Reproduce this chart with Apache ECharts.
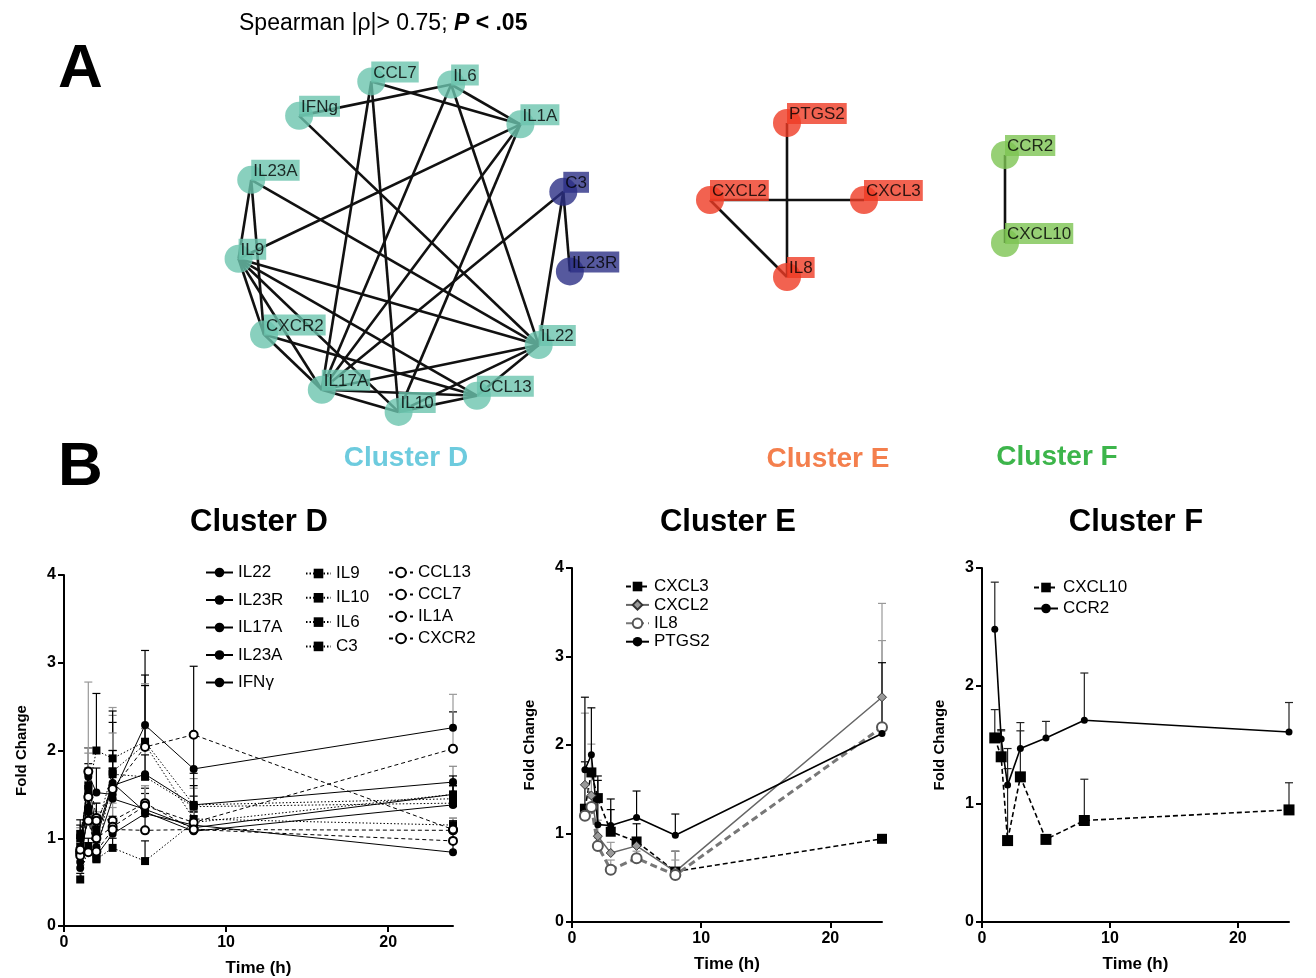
<!DOCTYPE html>
<html>
<head>
<meta charset="utf-8">
<script src="https://cdn.jsdelivr.net/npm/echarts@6/dist/echarts.min.js"></script>
<style>html,body{margin:0;padding:0;background:#fff}#c{width:1316px;height:978px}</style>
</head>
<body>
<div id="c"></div>
<script>
// ---------------- DATA ----------------
const TIMES = [1, 1.5, 2, 3, 5, 8, 24];
const X_TICKS = [0, 10, 20];

// Cluster D: mean fold change
const IL22  = [0.85, 1.73, 1.52, 1.50, 2.29, 1.79, 2.26];
const IL23R = [0.80, 1.50, 1.00, 1.60, 1.73, 1.38, 1.64];
const IL17A = [0.66, 1.35, 0.90, 1.45, 1.33, 1.12, 1.50];
const IL23A = [0.87, 1.70, 1.05, 1.63, 1.30, 1.08, 1.38];
const IFNG  = [0.73, 1.30, 0.80, 1.05, 1.28, 1.15, 0.84];
const IL9   = [1.05, 1.55, 2.00, 1.91, 2.10, 1.38, 1.45];
const IL10  = [0.90, 1.47, 1.10, 1.76, 2.07, 1.22, 1.15];
const IL6   = [1.00, 1.60, 0.77, 1.73, 1.70, 1.36, 1.40];
const C3    = [0.53, 0.91, 0.76, 0.89, 0.74, 1.18, 1.50];
const CCL13 = [0.83, 1.76, 1.23, 1.20, 1.40, 1.10, 1.09];
const CCL7  = [0.85, 0.84, 1.20, 1.56, 2.04, 2.18, 1.10];
const IL1A  = [0.80, 1.47, 1.00, 1.13, 1.37, 1.18, 2.02];
const CXCR2 = [0.87, 1.20, 0.85, 1.10, 1.09, 1.10, 0.97];
// Cluster D: upper end of error bars
const IL22_UP  = [1.00, 2.03, 1.80, 2.00, 3.14, 2.20, 2.44];
const IL23R_UP = [0.95, 1.97, 1.20, 2.40, 2.25, 1.68, 1.82];
const IL17A_UP = [0.80, 1.60, 1.05, 2.32, 1.51, 1.48, 1.71];
const IL23A_UP = [1.05, 2.78, 1.25, 2.49, 1.42, 1.25, 1.59];
const IFNG_UP  = [0.85, 1.50, 0.95, 1.20, 1.57, 1.30, 1.00];
const IL9_UP   = [1.21, 1.80, 2.65, 2.45, 2.86, 1.60, 1.62];
const IL10_UP  = [1.12, 1.75, 1.30, 2.20, 2.76, 1.57, 1.23];
const IL6_UP   = [1.15, 1.85, 0.90, 2.00, 1.95, 1.74, 1.46];
const C3_UP    = [0.60, 1.00, 0.85, 1.00, 0.97, 1.30, 1.60];
const CCL13_UP = [0.95, 2.03, 1.40, 1.40, 1.60, 1.25, 1.23];
const CCL7_UP  = [1.00, 0.95, 1.40, 1.80, 2.74, 2.96, 1.20];
const IL1A_UP  = [0.95, 1.65, 1.15, 1.35, 1.60, 1.40, 2.64];
const CXCR2_UP = [1.00, 1.35, 1.00, 1.25, 1.25, 1.20, 1.10];

// Cluster E
const CXCL3  = [1.28, 1.69, 1.40, 1.02, 0.91, 0.57, 0.94];
const CXCL2  = [1.55, 1.43, 0.97, 0.78, 0.86, 0.57, 2.54];
const IL8    = [1.20, 1.30, 0.86, 0.59, 0.72, 0.53, 2.20];
const PTGS2  = [1.72, 1.89, 1.10, 1.09, 1.18, 0.98, 2.13];
const CXCL3_UP = [1.81, 1.72, 1.60, 1.27, 1.11, 0.80, 0.94];
const CXCL2_UP = [2.36, 2.01, 1.15, 0.90, 0.95, 0.80, 3.60];
const IL8_UP   = [1.30, 1.40, 0.95, 0.70, 0.80, 0.70, 3.18];
const PTGS2_UP = [2.54, 2.42, 1.65, 1.39, 1.48, 1.22, 2.93];

// Cluster F
const CXCL10 = [1.56, 1.40, 0.69, 1.23, 0.70, 0.86, 0.95];
const CCR2   = [2.48, 1.55, 1.16, 1.47, 1.56, 1.71, 1.61];
const CXCL10_UP = [1.80, 1.62, 1.47, 1.62, 0.70, 1.21, 1.18];
const CCR2_UP   = [2.88, 1.63, 1.30, 1.69, 1.70, 2.11, 1.86];

// Networks (Spearman correlation clusters)
const NET_D_NODES = ['CCL7','IL6','IL1A','C3','IL23R','IL22','CCL13','IL10','IL17A','CXCR2','IL9','IL23A','IFNg'];
const NET_D_BLUE  = ['C3','IL23R'];
const NET_D_EDGES = [
  ['CCL7','IL1A'],['CCL7','IL17A'],['CCL7','IL10'],
  ['IL6','IFNg'],['IL6','IL1A'],['IL6','IL17A'],['IL6','IL22'],
  ['IFNg','IL22'],['IL23A','IL22'],['IL23A','IL9'],['IL23A','CXCR2'],
  ['IL1A','IL9'],['IL1A','IL17A'],['IL1A','IL10'],
  ['C3','IL17A'],['C3','IL23R'],['C3','IL22'],
  ['IL9','IL22'],['IL9','CCL13'],['IL9','CXCR2'],['IL9','IL17A'],['IL9','IL10'],
  ['CXCR2','IL17A'],['CXCR2','CCL13'],
  ['IL17A','IL22'],['IL17A','IL10'],['IL17A','CCL13'],
  ['IL10','IL22'],['IL10','CCL13'],['CCL13','IL22']
];
const NET_E_NODES = ['PTGS2','CXCL3','IL8','CXCL2'];
const NET_E_EDGES = [['PTGS2','IL8'],['CXCL2','CXCL3'],['CXCL2','IL8']];
const NET_F_NODES = ['CCR2','CXCL10'];
const NET_F_EDGES = [['CCR2','CXCL10']];

// ---------------- CHART ----------------
const FONT = '"Liberation Sans", Arial, Helvetica, sans-serif';
const chart = echarts.init(document.getElementById('c'));

function errSeries(name, vals, ups, color, ai) {
  return {
    type: 'custom', name: name + ' SD', xAxisIndex: ai, yAxisIndex: ai, z: 1, silent: true,
    data: TIMES.map((t, i) => [t, vals[i], ups[i]]),
    encode: { x: 0, y: 1 },
    renderItem(params, api) {
      const t = api.value(0), v = api.value(1), e = api.value(2);
      if (!(e > v + 0.005)) return null;
      const p0 = api.coord([t, v]), p1 = api.coord([t, e]);
      return { type: 'group', children: [
        { type: 'line', shape: { x1: p0[0], y1: p0[1], x2: p1[0], y2: p1[1] }, style: { stroke: color, lineWidth: 1.2 } },
        { type: 'line', shape: { x1: p1[0] - 4, y1: p1[1], x2: p1[0] + 4, y2: p1[1] }, style: { stroke: color, lineWidth: 1.2 } }
      ] };
    }
  };
}

function lineSeries(name, vals, ai, st) {
  return {
    type: 'line', name, xAxisIndex: ai, yAxisIndex: ai, z: 3,
    data: TIMES.map((t, i) => [t, vals[i]]),
    symbol: st.symbol, symbolSize: st.size, showSymbol: true,
    lineStyle: { color: st.line || '#000', width: st.width || 1, type: st.type || 'solid' },
    itemStyle: { color: st.color || '#000', borderColor: st.border || st.color || '#000', borderWidth: st.bw || 0 }
  };
}

const SOLID_C = { symbol: 'circle', size: 8 };
const DOT_S = { symbol: 'rect', size: 8, type: [1.5, 2] };
const DASH_O = { symbol: 'emptyCircle', size: 8, type: [4, 3], bw: 2, color: '#000' };

const dSeriesDefs = [
  ['IL22', IL22, IL22_UP, SOLID_C, '#000'],
  ['IL23R', IL23R, IL23R_UP, SOLID_C, '#888'],
  ['IL17A', IL17A, IL17A_UP, SOLID_C, '#000'],
  ['IL23A', IL23A, IL23A_UP, SOLID_C, '#999'],
  ['IFNγ', IFNG, IFNG_UP, SOLID_C, '#000'],
  ['IL9', IL9, IL9_UP, DOT_S, '#000'],
  ['IL10', IL10, IL10_UP, DOT_S, '#888'],
  ['IL6', IL6, IL6_UP, DOT_S, '#000'],
  ['C3', C3, C3_UP, DOT_S, '#000'],
  ['CCL13', CCL13, CCL13_UP, DASH_O, '#999'],
  ['CCL7', CCL7, CCL7_UP, DASH_O, '#000'],
  ['IL1A', IL1A, IL1A_UP, DASH_O, '#999'],
  ['CXCR2', CXCR2, CXCR2_UP, DASH_O, '#000']
];
const eSeriesDefs = [
  ['CXCL3', CXCL3, CXCL3_UP, { symbol: 'rect', size: 10, type: [5, 3], width: 1.6 }, '#000'],
  ['CXCL2', CXCL2, CXCL2_UP, { symbol: 'diamond', size: 9, line: '#666', width: 1.5, color: '#999', border: '#333', bw: 1 }, '#999'],
  ['IL8', IL8, IL8_UP, { symbol: 'emptyCircle', size: 10, line: '#777', width: 3, type: [7, 4], color: '#555', bw: 2.5 }, '#999'],
  ['PTGS2', PTGS2, PTGS2_UP, { symbol: 'circle', size: 7, width: 1.6 }, '#000']
];
const fSeriesDefs = [
  ['CXCL10', CXCL10, CXCL10_UP, { symbol: 'rect', size: 11, type: [5, 3], width: 1.6 }, '#222'],
  ['CCR2', CCR2, CCR2_UP, { symbol: 'circle', size: 7, width: 1.6 }, '#222']
];

const series = [];
[[dSeriesDefs, 0], [eSeriesDefs, 1], [fSeriesDefs, 2]].forEach(([defs, ai]) => {
  defs.forEach(d => series.push(errSeries(d[0], d[1], d[2], d[4], ai)));
  defs.forEach(d => series.push(lineSeries(d[0], d[1], ai, d[3])));
});

// networks
const TEAL = '#6cc4ae', NAVY = '#2c2f86', RED = '#ef3b24', GREEN = '#7dc453';
function nodeSeries(pi, nodes, colorOf, size) {
  return {
    type: 'scatter', name: 'net' + pi, coordinateSystem: 'polar', polarIndex: pi, z: 5, silent: true,
    symbolSize: size,
    data: nodes.map((n, i) => ({ name: n, value: [1, i], itemStyle: { color: colorOf(n) }, label: { backgroundColor: colorOf(n) } })),
    label: { show: true, formatter: '{b}', position: [size / 2, size / 2 + 1], align: 'left', verticalAlign: 'bottom',
             color: '#000', fontSize: 17, fontFamily: FONT, padding: [2, 2, 0, 2], lineHeight: 19 }
  };
}
function edgeSeries(pi, nodes, edges) {
  return {
    type: 'custom', name: 'edges' + pi, coordinateSystem: 'polar', polarIndex: pi, z: 4, silent: true,
    data: edges.map(e => [1, nodes.indexOf(e[0]), nodes.indexOf(e[1])]),
    renderItem(params, api) {
      const a = api.coord([1, api.value(1)]), b = api.coord([1, api.value(2)]);
      return { type: 'line', shape: { x1: a[0], y1: a[1], x2: b[0], y2: b[1] }, style: { stroke: '#111', lineWidth: 2.6 } };
    }
  };
}
series.push(edgeSeries(0, NET_D_NODES, NET_D_EDGES));
series.push(nodeSeries(0, NET_D_NODES, n => NET_D_BLUE.includes(n) ? NAVY : TEAL, 28));
series.push(edgeSeries(1, NET_E_NODES, NET_E_EDGES));
series.push(nodeSeries(1, NET_E_NODES, () => RED, 28));
series.push(edgeSeries(2, NET_F_NODES, NET_F_EDGES));
series.push(nodeSeries(2, NET_F_NODES, () => GREEN, 28));

function xAx(gi) {
  return {
    type: 'value', gridIndex: gi, min: 0, max: 24, interval: 10,
    name: 'Time (h)', nameLocation: 'middle', nameGap: 34,
    nameTextStyle: { fontWeight: 'bold', fontSize: 17, color: '#000', fontFamily: FONT },
    axisLine: { lineStyle: { color: '#000', width: 2 } },
    axisTick: { length: 6, lineStyle: { color: '#000', width: 2 }, customValues: X_TICKS },
    axisLabel: { color: '#000', fontWeight: 'bold', fontSize: 16, margin: 9, fontFamily: FONT, customValues: X_TICKS },
    splitLine: { show: false }
  };
}
function yAx(gi, max) {
  return {
    type: 'value', gridIndex: gi, min: 0, max, interval: 1,
    name: 'Fold Change', nameLocation: 'middle', nameGap: 35, nameRotate: 90,
    nameTextStyle: { fontWeight: 'bold', fontSize: 15, color: '#000', fontFamily: FONT },
    axisLine: { show: true, lineStyle: { color: '#000', width: 2 } },
    axisTick: { show: true, length: 6, lineStyle: { color: '#000', width: 2 } },
    axisLabel: { color: '#000', fontWeight: 'bold', fontSize: 16, margin: 8, fontFamily: FONT },
    splitLine: { show: false }
  };
}
function legend(names, left, top, gap, w) {
  return { data: names, left, top, padding: 0, orient: 'vertical', itemGap: gap, itemWidth: w, itemHeight: 12,
           textStyle: { fontSize: 17, color: '#000', fontFamily: FONT }, selectedMode: false };
}
function chartTitle(text, cx) {
  return { text, left: cx, top: 507, padding: 0, textAlign: 'center',
           textStyle: { fontSize: 31, fontWeight: 'bold', color: '#000', fontFamily: FONT } };
}

const option = {
  animation: false,
  textStyle: { fontFamily: FONT },
  title: [chartTitle('Cluster D', 259), chartTitle('Cluster E', 728), chartTitle('Cluster F', 1136)],
  grid: [
    { left: 64, top: 575, width: 389, height: 353 },
    { left: 572, top: 568, width: 310, height: 354 },
    { left: 982, top: 568, width: 307, height: 354 }
  ],
  xAxis: [xAx(0), xAx(1), xAx(2)],
  yAxis: [yAx(0, 4), yAx(1, 4), yAx(2, 3)],
  polar: [
    { center: [405, 245], radius: 167 },
    { center: [787, 200], radius: 77 },
    { center: [1005, 199], radius: 44 }
  ],
  angleAxis: [
    { polarIndex: 0, type: 'category', data: NET_D_NODES, startAngle: 115.5, clockwise: true, show: false },
    { polarIndex: 1, type: 'category', data: NET_E_NODES, startAngle: 135, clockwise: true, show: false },
    { polarIndex: 2, type: 'category', data: NET_F_NODES, startAngle: 180, clockwise: true, show: false }
  ],
  radiusAxis: [
    { polarIndex: 0, min: 0, max: 1, show: false },
    { polarIndex: 1, min: 0, max: 1, show: false },
    { polarIndex: 2, min: 0, max: 1, show: false }
  ],
  legend: [
    legend(['IL22', 'IL23R', 'IL17A', 'IL23A', 'IFNγ'], 205, 564, 10.5, 27),
    legend(['IL9', 'IL10', 'IL6', 'C3'], 305, 565, 7.3, 25),
    legend(['CCL13', 'CCL7', 'IL1A', 'CXCR2'], 388, 564, 5, 24),
    legend(['CXCL3', 'CXCL2', 'IL8', 'PTGS2'], 625, 578, 1.4, 23),
    legend(['CXCL10', 'CCR2'], 1033, 579, 4, 24)
  ],
  graphic: [
    { type: 'text', x: 58, y: 70, style: { text: 'A', fontSize: 62, fontWeight: 'bold', fontFamily: FONT, fill: '#000', verticalAlign: 'middle' } },
    { type: 'text', x: 58, y: 468, style: { text: 'B', fontSize: 62, fontWeight: 'bold', fontFamily: FONT, fill: '#000', verticalAlign: 'middle' } },
    { type: 'text', x: 239, y: 24, style: {
        text: '{a|Spearman |ρ|> 0.75; }{b|P}{c| < .05}', verticalAlign: 'middle', fill: '#000',
        rich: { a: { fontSize: 23, fontFamily: FONT, fill: '#000' },
                b: { fontSize: 23, fontFamily: FONT, fontStyle: 'italic', fontWeight: 'bold', fill: '#000' },
                c: { fontSize: 23, fontFamily: FONT, fontWeight: 'bold', fill: '#000' } } } },
    { type: 'text', x: 406, y: 458, style: { text: 'Cluster D', fontSize: 28, fontWeight: 'bold', fontFamily: FONT, fill: '#6dcbde', align: 'center', verticalAlign: 'middle' } },
    { type: 'text', x: 828, y: 459, style: { text: 'Cluster E', fontSize: 28, fontWeight: 'bold', fontFamily: FONT, fill: '#f47f4d', align: 'center', verticalAlign: 'middle' } },
    { type: 'text', x: 1057, y: 457, style: { text: 'Cluster F', fontSize: 28, fontWeight: 'bold', fontFamily: FONT, fill: '#3db54b', align: 'center', verticalAlign: 'middle' } }
  ],
  series
};
chart.setOption(option);
</script>
</body>
</html>
